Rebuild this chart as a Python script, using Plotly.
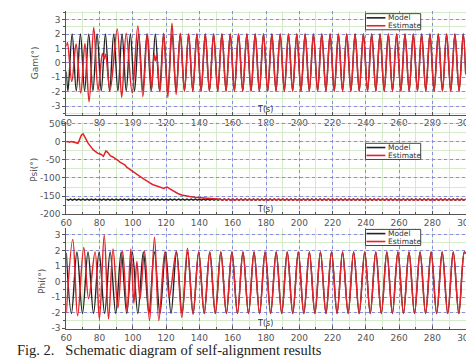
import plotly.graph_objects as go

# ---------------- tick labels ----------------
X_TICKS = [60, 80, 100, 120, 140, 160, 180, 200, 220, 240, 260, 280, 300]
X_TICK_TEXT = ["60", "80", "100", "120", "140", "160", "180", "200", "220", "240", "260", "280", "300"]
ANG_TICKS = [-3, -2, -1, 0, 1, 2, 3]
ANG_TICK_TEXT = ["-3", "-2", "-1", "0", "1", "2", "3"]
PSI_TICKS = [-200, -150, -100, -50, 0, 50]
PSI_TICK_TEXT = ["-200", "-150", "-100", "-50", "0", "50"]

# ---------------- Gam (extrema) ----------------
gam_model_t = [60,
    61, 63.5, 66, 68.5, 71, 73.5, 76, 78.5, 81, 83.5, 86, 88.5,
    91, 93.5, 96, 98.5, 101, 103.5, 106, 108.5, 111, 113.5, 116, 118.5,
    121, 123.5, 126, 128.5, 131, 133.5, 136, 138.5, 141, 143.5, 146, 148.5,
    151, 153.5, 156, 158.5, 161, 163.5, 166, 168.5, 171, 173.5, 176, 178.5,
    181, 183.5, 186, 188.5, 191, 193.5, 196, 198.5, 201, 203.5, 206, 208.5,
    211, 213.5, 216, 218.5, 221, 223.5, 226, 228.5, 231, 233.5, 236, 238.5,
    241, 243.5, 246, 248.5, 251, 253.5, 256, 258.5, 261, 263.5, 266, 268.5,
    271, 273.5, 276, 278.5, 281, 283.5, 286, 288.5, 291, 293.5, 296, 298.5,
    300]
gam_model_v = [-0.6,
    -1.95, 2.0, -1.95, 2.0, -1.95, 2.0, -1.95, 2.0, -1.95, 2.0, -1.95, 2.0,
    -1.95, 2.0, -1.95, 2.0, -1.95, 2.0, -1.95, 2.0, -1.95, 2.0, -1.95, 2.0,
    -1.95, 2.0, -1.95, 2.0, -1.95, 2.0, -1.95, 2.0, -1.95, 2.0, -1.95, 2.0,
    -1.95, 2.0, -1.95, 2.0, -1.95, 2.0, -1.95, 2.0, -1.95, 2.0, -1.95, 2.0,
    -1.95, 2.0, -1.95, 2.0, -1.95, 2.0, -1.95, 2.0, -1.95, 2.0, -1.95, 2.0,
    -1.95, 2.0, -1.95, 2.0, -1.95, 2.0, -1.95, 2.0, -1.95, 2.0, -1.95, 2.0,
    -1.95, 2.0, -1.95, 2.0, -1.95, 2.0, -1.95, 2.0, -1.95, 2.0, -1.95, 2.0,
    -1.95, 2.0, -1.95, 2.0, -1.95, 2.0, -1.95, 2.0, -1.95, 2.0, -1.95, 2.0,
    -0.8]
gam_est_head_t = [60.0, 60.7, 63.3, 65.9, 68.7, 71.2, 73.7, 76.5, 79.1, 81.7, 82.7, 83.6,
                  86.3, 90.6, 93.3, 96.0, 99.6, 103.0, 106.0, 108.7, 111.3, 112.8, 113.6,
                  114.3, 116.3, 118.5, 121.0, 123.5, 126.0, 128.5]
gam_est_head_v = [1.15, 1.4, -1.3, 1.3, -2.1, 1.35, -2.7, 2.45, -1.9, 0.65, 0.25, 0.6,
                  -1.9, 2.35, -2.4, 2.05, -2.1, 2.55, -2.35, 2.0, -1.8, 0.6, 0.15,
                  0.5, -2.0, 2.05, -2.4, 2.75, -2.2, 2.05]

# ---------------- Psi ----------------
psi_model_t = [
    60, 61.25, 62.5, 63.75, 65, 66.25, 67.5, 68.75,
    70, 71.25, 72.5, 73.75, 75, 76.25, 77.5, 78.75,
    80, 81.25, 82.5, 83.75, 85, 86.25, 87.5, 88.75,
    90, 91.25, 92.5, 93.75, 95, 96.25, 97.5, 98.75,
    100, 101.25, 102.5, 103.75, 105, 106.25, 107.5, 108.75,
    110, 111.25, 112.5, 113.75, 115, 116.25, 117.5, 118.75,
    120, 121.25, 122.5, 123.75, 125, 126.25, 127.5, 128.75,
    130, 131.25, 132.5, 133.75, 135, 136.25, 137.5, 138.75,
    140, 141.25, 142.5, 143.75, 145, 146.25, 147.5, 148.75,
    150, 151.25, 152.5, 153.75, 155, 156.25, 157.5, 158.75,
    160, 161.25, 162.5, 163.75, 165, 166.25, 167.5, 168.75,
    170, 171.25, 172.5, 173.75, 175, 176.25, 177.5, 178.75,
    180, 181.25, 182.5, 183.75, 185, 186.25, 187.5, 188.75,
    190, 191.25, 192.5, 193.75, 195, 196.25, 197.5, 198.75,
    200, 201.25, 202.5, 203.75, 205, 206.25, 207.5, 208.75,
    210, 211.25, 212.5, 213.75, 215, 216.25, 217.5, 218.75,
    220, 221.25, 222.5, 223.75, 225, 226.25, 227.5, 228.75,
    230, 231.25, 232.5, 233.75, 235, 236.25, 237.5, 238.75,
    240, 241.25, 242.5, 243.75, 245, 246.25, 247.5, 248.75,
    250, 251.25, 252.5, 253.75, 255, 256.25, 257.5, 258.75,
    260, 261.25, 262.5, 263.75, 265, 266.25, 267.5, 268.75,
    270, 271.25, 272.5, 273.75, 275, 276.25, 277.5, 278.75,
    280, 281.25, 282.5, 283.75, 285, 286.25, 287.5, 288.75,
    290, 291.25, 292.5, 293.75, 295, 296.25, 297.5, 298.75,
    300]
psi_model_v = [
    -158.5, -161.5, -158.5, -161.5, -158.5, -161.5, -158.5, -161.5,
    -158.5, -161.5, -158.5, -161.5, -158.5, -161.5, -158.5, -161.5,
    -158.5, -161.5, -158.5, -161.5, -158.5, -161.5, -158.5, -161.5,
    -158.5, -161.5, -158.5, -161.5, -158.5, -161.5, -158.5, -161.5,
    -158.5, -161.5, -158.5, -161.5, -158.5, -161.5, -158.5, -161.5,
    -158.5, -161.5, -158.5, -161.5, -158.5, -161.5, -158.5, -161.5,
    -158.5, -161.5, -158.5, -161.5, -158.5, -161.5, -158.5, -161.5,
    -158.5, -161.5, -158.5, -161.5, -158.5, -161.5, -158.5, -161.5,
    -158.5, -161.5, -158.5, -161.5, -158.5, -161.5, -158.5, -161.5,
    -158.5, -161.5, -158.5, -161.5, -158.5, -161.5, -158.5, -161.5,
    -158.5, -161.5, -158.5, -161.5, -158.5, -161.5, -158.5, -161.5,
    -158.5, -161.5, -158.5, -161.5, -158.5, -161.5, -158.5, -161.5,
    -158.5, -161.5, -158.5, -161.5, -158.5, -161.5, -158.5, -161.5,
    -158.5, -161.5, -158.5, -161.5, -158.5, -161.5, -158.5, -161.5,
    -158.5, -161.5, -158.5, -161.5, -158.5, -161.5, -158.5, -161.5,
    -158.5, -161.5, -158.5, -161.5, -158.5, -161.5, -158.5, -161.5,
    -158.5, -161.5, -158.5, -161.5, -158.5, -161.5, -158.5, -161.5,
    -158.5, -161.5, -158.5, -161.5, -158.5, -161.5, -158.5, -161.5,
    -158.5, -161.5, -158.5, -161.5, -158.5, -161.5, -158.5, -161.5,
    -158.5, -161.5, -158.5, -161.5, -158.5, -161.5, -158.5, -161.5,
    -158.5, -161.5, -158.5, -161.5, -158.5, -161.5, -158.5, -161.5,
    -158.5, -161.5, -158.5, -161.5, -158.5, -161.5, -158.5, -161.5,
    -158.5, -161.5, -158.5, -161.5, -158.5, -161.5, -158.5, -161.5,
    -158.5, -161.5, -158.5, -161.5, -158.5, -161.5, -158.5, -161.5,
    -158.5]
psi_est_head_t = [60, 61, 62, 63, 64, 65, 66, 67,
                  67.6, 68.3, 69.1, 70.1, 71, 72, 73, 74,
                  75, 76, 77, 78, 79, 80, 81, 82.3,
                  83, 83.8, 84.7, 85.6, 86.6, 88, 89.5, 91,
                  92.4, 94, 95.2, 96.3, 98, 100.2, 102, 104,
                  106, 108, 110, 111.8, 113.5, 115.7, 117, 118.6,
                  119.8, 120.6, 121.5, 122.5, 124, 125.4, 127, 129.3,
                  131, 132.5, 134.2, 137, 140, 143, 145.8, 148.7,
                  151.2]
psi_est_head_v = [0, 1, -1, 0.5, -0.5, -1.5, -2.5, -4,
                  2, 10, 19, 22, 16, 6, -3, -10,
                  -16, -21, -25, -29, -32, -33, -35, -40,
                  -32, -25, -28, -34, -39, -42, -46, -51,
                  -57, -61, -64, -70, -76, -82, -88, -95,
                  -101, -108, -113, -118, -121, -124, -127, -129,
                  -126, -125, -128, -131, -136, -140, -143, -147,
                  -149, -150, -151, -153, -154, -155, -156, -157,
                  -158]

# ---------------- Phi ----------------
phi_model_t = [60,
    63.08, 66.4, 69.73, 73.05, 76.38, 79.7, 83.03, 86.35, 89.68, 93.0,
    96.33, 99.65, 102.98, 106.3, 109.63, 112.95, 116.28, 119.6, 122.93, 126.25,
    129.58, 132.9, 136.23, 139.55, 142.88, 146.2, 149.53, 152.85, 156.18, 159.5,
    162.83, 166.15, 169.48, 172.8, 176.13, 179.45, 182.78, 186.1, 189.43, 192.75,
    196.08, 199.4, 202.73, 206.05, 209.38, 212.7, 216.03, 219.35, 222.68, 226.0,
    229.33, 232.65, 235.98, 239.3, 242.63, 245.95, 249.28, 252.6, 255.93, 259.25,
    262.58, 265.9, 269.23, 272.55, 275.88, 279.2, 282.53, 285.85, 289.18, 292.5,
    295.83, 299.15,
    300]
phi_model_v = [1.85,
    -2.05, 1.9, -2.05, 1.9, -2.05, 1.9, -2.05, 1.9, -2.05, 1.9,
    -2.05, 1.9, -2.05, 1.9, -2.05, 1.9, -2.05, 1.9, -2.05, 1.9,
    -2.05, 1.9, -2.05, 1.9, -2.05, 1.9, -2.05, 1.9, -2.05, 1.9,
    -2.05, 1.9, -2.05, 1.9, -2.05, 1.9, -2.05, 1.9, -2.05, 1.9,
    -2.05, 1.9, -2.05, 1.9, -2.05, 1.9, -2.05, 1.9, -2.05, 1.9,
    -2.05, 1.9, -2.05, 1.9, -2.05, 1.9, -2.05, 1.9, -2.05, 1.9,
    -2.05, 1.9, -2.05, 1.9, -2.05, 1.9, -2.05, 1.9, -2.05, 1.9,
    -2.05, 1.9,
    1.8]
phi_est_head_t = [60.0, 63.9, 66.8, 70.5, 73.4, 77.3, 79.9, 82.8, 85.4, 88.1, 91.0,
                  93.8, 96.5, 98.8, 100.6, 102.4, 104.3, 107.0, 110.0, 113.0, 115.6,
                  119.2, 121.9, 126.1, 129.4, 132.8, 136.1]
phi_est_head_v = [-2.0, 2.7, -2.2, 2.2, -1.1, 1.9, -2.4, 3.0, -2.4, 2.1, -1.7,
                  1.95, -1.9, 2.1, -1.4, 1.3, -1.1, 1.95, -2.5, 2.85, -2.5,
                  1.9, -1.0, 1.95, -2.3, 2.15, -2.1]

# after convergence the estimate lies on the model curve
gi = gam_model_t.index(131)
gam_est_t = gam_est_head_t + gam_model_t[gi:]
gam_est_v = gam_est_head_v + gam_model_v[gi:]
pi_ = psi_model_t.index(152.5)
psi_est_t = psi_est_head_t + psi_model_t[pi_:]
psi_est_v = psi_est_head_v + psi_model_v[pi_:]
fi = phi_model_t.index(139.55)
phi_est_t = phi_est_head_t + phi_model_t[fi:]
phi_est_v = phi_est_head_v + phi_model_v[fi:]

# ---------------- figure ----------------
W, H = 474, 364
RED = "#e2232c"
BLK = "#222222"
TXT = "#555555"


def px(x):
    return x / W


def py(y):
    return 1 - y / H


fig = go.Figure()
panels = [
    ("x", "y", gam_model_t, gam_model_v, gam_est_t, gam_est_v, "spline"),
    ("x2", "y2", psi_model_t, psi_model_v, psi_est_t, psi_est_v, "linear"),
    ("x3", "y3", phi_model_t, phi_model_v, phi_est_t, phi_est_v, "spline"),
]
for xa, ya, mt, mv, et, ev, shp in panels:
    fig.add_trace(go.Scatter(x=mt, y=mv, name="Model", mode="lines", xaxis=xa, yaxis=ya,
                             line=dict(color=BLK, width=1.4, shape=shp), showlegend=False))
    fig.add_trace(go.Scatter(x=et, y=ev, name="Estimate", mode="lines", xaxis=xa, yaxis=ya,
                             line=dict(color=RED, width=1.5, shape=shp), showlegend=False))

XDOM = [px(54), px(466.5)]


def xax(anchor):
    return dict(domain=XDOM, anchor=anchor, range=[60, 300], tickmode="array",
                tickvals=X_TICKS, ticktext=X_TICK_TEXT, ticklabeloverflow="allow",
                showline=True, linecolor="#555", linewidth=1,
                ticks="inside", ticklen=3, tickcolor="#555",
                tickfont=dict(family="DejaVu Sans", size=9, color=TXT),
                showgrid=True, gridcolor="#8c8cd8", griddash="dot", gridwidth=1,
                zeroline=False, fixedrange=True,
                minor=dict(dtick=10, tick0=60, showgrid=True, gridcolor="#d4ecca",
                           griddash="solid", ticks="inside", ticklen=2, tickcolor="#555"))


def yax(anchor, dom, rng, tv, tt, minor_dt):
    return dict(domain=dom, anchor=anchor, range=rng, tickmode="array",
                tickvals=tv, ticktext=tt, ticklabeloverflow="allow",
                showline=True, linecolor="#555", linewidth=1,
                ticks="outside", ticklen=3, tickcolor="#555",
                tickfont=dict(family="DejaVu Sans", size=9, color=TXT),
                showgrid=True, gridcolor="#8c8cd8", griddash="dot", gridwidth=1,
                zeroline=False, fixedrange=True,
                minor=dict(dtick=minor_dt, showgrid=True, gridcolor="#d4ecca",
                           griddash="solid", ticks="outside", ticklen=2, tickcolor="#555"))


fig.update_layout(
    width=W, height=H, autosize=False,
    margin=dict(l=0, r=0, t=0, b=0),
    paper_bgcolor="white", plot_bgcolor="white",
    xaxis=xax("y"), xaxis2=xax("y2"), xaxis3=xax("y3"),
    yaxis=yax("x", [py(106), py(0)], [-3.6, 3.6], ANG_TICKS, ANG_TICK_TEXT, 0.5),
    yaxis2=yax("x2", [py(207.7), py(113.4)], [-200, 55], PSI_TICKS, PSI_TICK_TEXT, 25),
    yaxis3=yax("x3", [py(325), py(222)], [-3.04, 3.44], ANG_TICKS, ANG_TICK_TEXT, 0.5),
)

shapes = []
annotations = []
# legends (one per panel)
for top in (2.7, 135.3, 223.3):
    shapes.append(dict(type="rect", xref="paper", yref="paper", x0=px(363), x1=px(420),
                       y0=py(top + 16.5), y1=py(top), line=dict(color="#444", width=1),
                       fillcolor="white", layer="above"))
    for dy, col, label in ((4.3, BLK, "Model"), (12.4, RED, "Estimate")):
        shapes.append(dict(type="line", xref="paper", yref="paper", x0=px(364), x1=px(383.5),
                           y0=py(top + dy), y1=py(top + dy), line=dict(color=col, width=1.6),
                           layer="above"))
        annotations.append(dict(xref="paper", yref="paper", x=px(385), y=py(top + dy),
                                xanchor="left", yanchor="middle", showarrow=False, text=label,
                                borderpad=0,
                                font=dict(family="DejaVu Sans", size=7.5, color="#333")))

# axis titles
for xp, yp, txt in ((21, 53, "Gam(°)"), (21, 162, "Psi(°)"), (29, 277, "Phi(°)")):
    annotations.append(dict(xref="paper", yref="paper", x=px(xp), y=py(yp), textangle=-90,
                            xanchor="center", yanchor="middle", showarrow=False, text=txt,
                            font=dict(family="DejaVu Sans", size=9, color=TXT)))
for yp in (100.5, 202.5, 320):
    annotations.append(dict(xref="paper", yref="paper", x=px(259), y=py(yp),
                            xanchor="center", yanchor="middle", showarrow=False, text="T(s)",
                            borderpad=0,
                            font=dict(family="DejaVu Sans", size=8, color="#333")))

annotations.append(dict(xref="paper", yref="paper", x=px(1), y=py(347),
                        xanchor="left", yanchor="middle", showarrow=False,
                        text="Fig. 2.   Schematic diagram of self-alignment results",
                        font=dict(family="Liberation Serif", size=14.5, color="#222")))

fig.update_layout(shapes=shapes, annotations=annotations)
fig.write_html("out.html")
